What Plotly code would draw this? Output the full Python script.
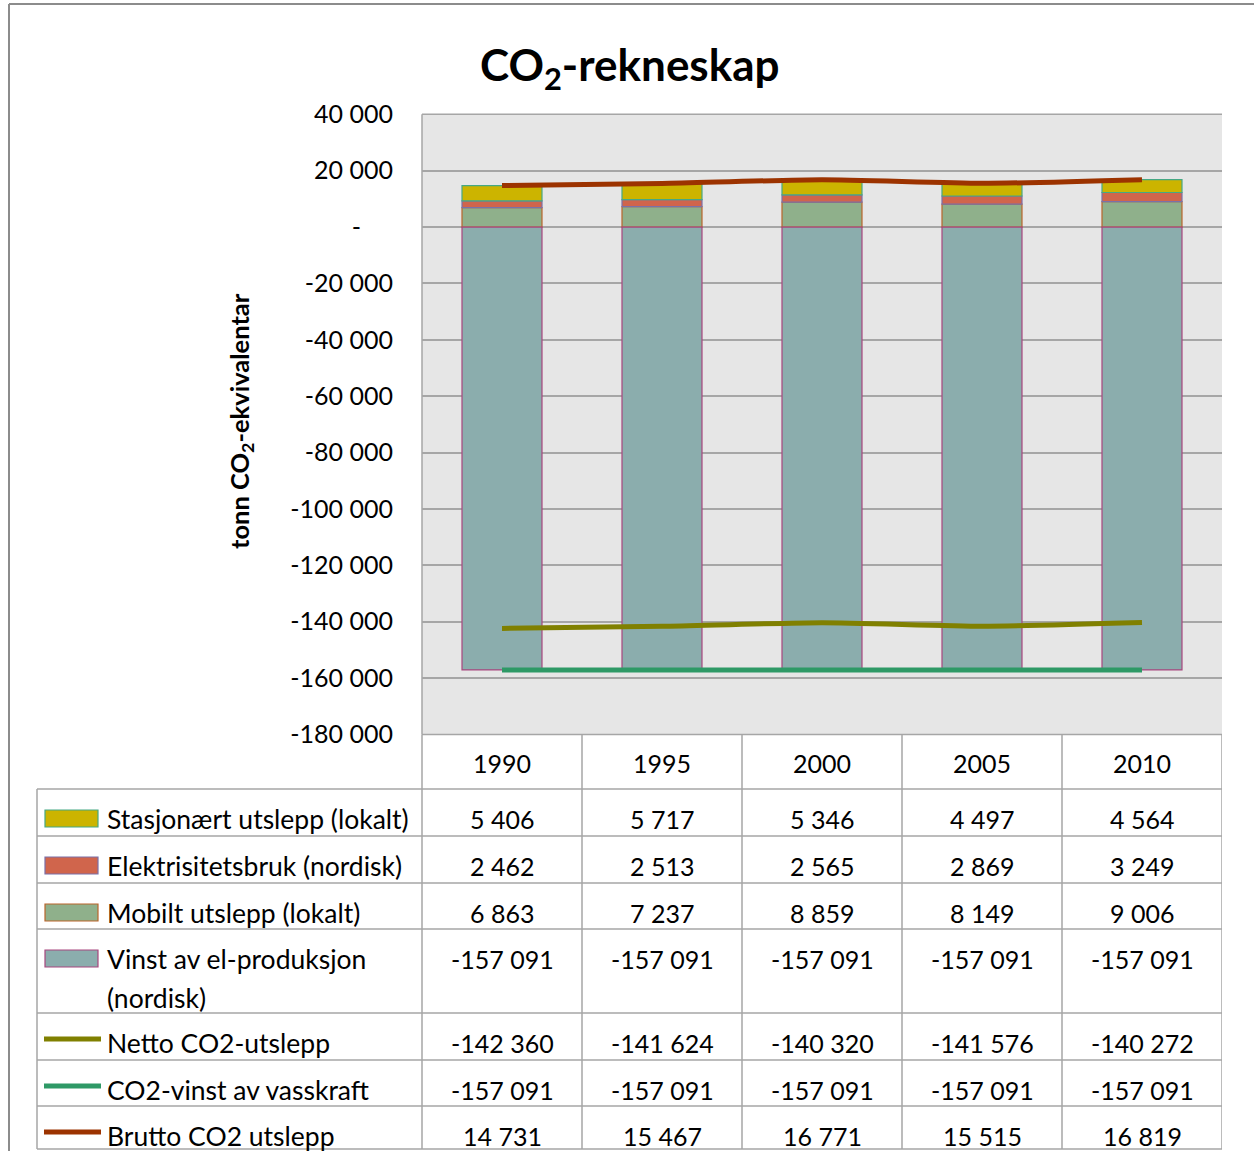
import plotly.graph_objects as go

W, H = 1254, 1151

# ---------------- data ----------------
years = ["1990", "1995", "2000", "2005", "2010"]
stasjonaert = [5406, 5717, 5346, 4497, 4564]
elektrisitet = [2462, 2513, 2565, 2869, 3249]
mobilt = [6863, 7237, 8859, 8149, 9006]
vinst_el = [-157091, -157091, -157091, -157091, -157091]
netto = [-142360, -141624, -140320, -141576, -140272]
vinst_vass = [-157091, -157091, -157091, -157091, -157091]
brutto = [14731, 15467, 16771, 15515, 16819]
ytick_vals = [40000, 20000, 0, -20000, -40000, -60000, -80000, -100000,
              -120000, -140000, -160000, -180000]

title_text = "CO<sub>2</sub>-rekneskap"
ytitle_text = "tonn CO<sub>2</sub>-ekvivalentar"

FONT = "Lato"
GRID = "#A6A6A6"


def fmt(v):
    if v == 0:
        return "-\u00a0\u00a0\u00a0\u00a0\u00a0"
    return f"{v:,}".replace(",", " ")


def px(x):
    return x / W


def py(y):
    return 1 - y / H


# series: (name, values, fill colour, border colour)
bar_series = [
    ("Mobilt utslepp (lokalt)", mobilt, "#8FB08B", "#B9652B"),
    ("Elektrisitetsbruk (nordisk)", elektrisitet, "#D0654C", "#7B70A8"),
    ("Stasjonært utslepp (lokalt)", stasjonaert, "#CCB400", "#45A884"),
    ("Vinst av el-produksjon (nordisk)", vinst_el, "#8BADAD", "#A8467E"),
]
line_series = [
    ("Netto CO2-utslepp", netto, "#808000"),
    ("CO2-vinst av vasskraft", vinst_vass, "#2E9966"),
    ("Brutto CO2 utslepp", brutto, "#9C3300"),
]

fig = go.Figure()
for name, vals, fill, border in bar_series:
    fig.add_trace(go.Bar(x=years, y=vals, name=name, width=0.5,
                         marker=dict(color=fill, line=dict(color=border, width=1.2)),
                         showlegend=False))
for name, vals, col in line_series:
    fig.add_trace(go.Scatter(x=years, y=vals, name=name, mode="lines",
                             line=dict(color=col, width=5, shape="spline", smoothing=0.6),
                             showlegend=False))

# plot area pixel box
PL, PR, PT, PB = 422, 1222, 114.3, 734.5

fig.update_layout(
    width=W, height=H,
    margin=dict(l=0, r=0, t=0, b=0, autoexpand=False),
    paper_bgcolor="white",
    plot_bgcolor="#E6E6E6",
    barmode="relative",
    font=dict(family=FONT, color="black"),
    xaxis=dict(domain=[px(PL), px(PR)], type="category", range=[-0.5, 4.5],
               showticklabels=False, showgrid=False, zeroline=False, ticks="",
               automargin=False),
    yaxis=dict(domain=[py(PB), py(PT)], range=[-180000, 40000],
               tickvals=ytick_vals, ticktext=[fmt(v) for v in ytick_vals],
               tickfont=dict(size=25, family=FONT, color="black"),
               showgrid=True, gridcolor=GRID, gridwidth=1.5,
               zeroline=False, ticks="", ticklabelstandoff=28, automargin=False),
)

shapes = []
annotations = []


def hline(x0, x1, y, xref="paper"):
    shapes.append(dict(type="line", xref=xref, yref="paper", x0=x0, x1=x1,
                       y0=py(y), y1=py(y), line=dict(color=GRID, width=1.5)))


def vline(x, y0, y1, xref="paper"):
    shapes.append(dict(type="line", xref=xref, yref="paper", x0=x, x1=x,
                       y0=py(y0), y1=py(y1), line=dict(color=GRID, width=1.5)))


def text(x, y, s, size, xref="paper", xanchor="center", bold=False, angle=0):
    f = dict(size=size, family=FONT, color="black")
    if bold:
        f["weight"] = "bold"
    annotations.append(dict(x=x, xref=xref, y=py(y), yref="paper", text=s,
                            showarrow=False, xanchor=xanchor, yanchor="middle",
                            textangle=angle, font=f))


# outer chart border (left + top)
shapes.append(dict(type="line", xref="paper", yref="paper", x0=px(9), x1=px(9),
                   y0=0, y1=py(4), line=dict(color="#8C8C8C", width=2)))
shapes.append(dict(type="line", xref="paper", yref="paper", x0=px(9), x1=1,
                   y0=py(4), y1=py(4), line=dict(color="#8C8C8C", width=2)))

# plot area left/top border
vline(px(PL), PT, PB)
hline(px(PL), px(PR), PT)

# ---------------- data table ----------------
TL = 37
row_tops = [789, 836, 883, 929, 1013, 1060, 1106, 1149]
hline(px(PL), px(PR), PB)
for y in row_tops:
    hline(px(TL), px(PR), y)
vline(px(TL), row_tops[0], row_tops[-1])
vline(px(PL), PB, row_tops[-1])
for i in range(len(years)):
    vline(i + 0.5, PB, row_tops[-1], xref="x")

for i, yr in enumerate(years):
    text(i, PB + 28, yr, 25, xref="x")

table_rows = [
    (["Stasjonært utslepp (lokalt)"], stasjonaert, "bar", "#CCB400", "#45A884"),
    (["Elektrisitetsbruk (nordisk)"], elektrisitet, "bar", "#D0654C", "#7B70A8"),
    (["Mobilt utslepp (lokalt)"], mobilt, "bar", "#8FB08B", "#B9652B"),
    (["Vinst av el-produksjon", "(nordisk)"], vinst_el, "bar", "#8BADAD", "#A8467E"),
    (["Netto CO2-utslepp"], netto, "line", "#808000", None),
    (["CO2-vinst av vasskraft"], vinst_vass, "line", "#2E9966", None),
    (["Brutto CO2 utslepp"], brutto, "line", "#9C3300", None),
]

for r, (labels, vals, kind, col, border) in enumerate(table_rows):
    top = row_tops[r]
    yc = top + 30
    for j, lab in enumerate(labels):
        text(px(105), yc + 39 * j, lab, 26.5, xanchor="left")
    for i, v in enumerate(vals):
        text(i, yc, fmt(v), 25, xref="x")
    if kind == "bar":
        shapes.append(dict(type="rect", xref="paper", yref="paper",
                           x0=px(45), x1=px(98), y0=py(top + 21), y1=py(top + 38),
                           fillcolor=col, line=dict(color=border, width=1.2)))
    else:
        shapes.append(dict(type="line", xref="paper", yref="paper",
                           x0=px(44), x1=px(101), y0=py(top + 26), y1=py(top + 26),
                           line=dict(color=col, width=5)))

# titles
text(px(630), 68, title_text, 44, bold=True)
text(px(241), 421, ytitle_text, 25.5, bold=True, angle=-90)

fig.update_layout(shapes=shapes, annotations=annotations)
fig.write_html("out.html")
